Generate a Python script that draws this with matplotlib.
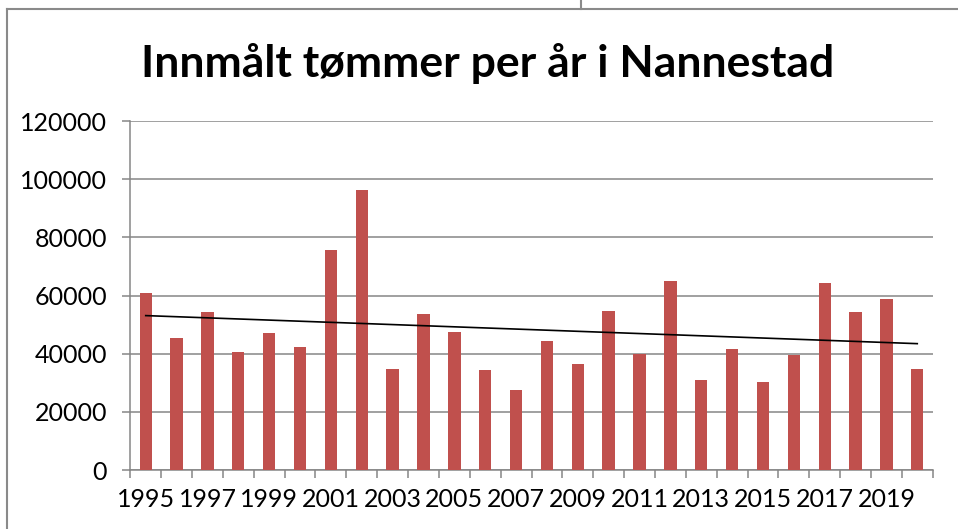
import numpy as np
import matplotlib
matplotlib.use("Agg")
from matplotlib import pyplot as plt
from matplotlib.lines import Line2D

years = list(range(1995, 2021))
volume = [61000, 45400, 54300, 40700, 47200, 42200, 75500, 96200, 34600, 53700,
          47400, 34400, 27600, 44300, 36300, 54500, 39900, 65000, 31000, 41500,
          30400, 39400, 64400, 54400, 58900, 34700]
tick_years = [str(y) if (y - 1995) % 2 == 0 else "" for y in years]
title = "Innmålt tømmer per år i Nannestad"

bar_color = "#C0504D"
grid_color = "#868686"
frame_color = "#8a8a8a"

plt.rcParams["font.family"] = ["Lato", "DejaVu Sans"]

W, H = 958, 529
fig = plt.figure(figsize=(W / 100, H / 100), dpi=100)
ax = fig.add_axes([130.3 / W, 1 - 470 / H, (932.7 - 130.3) / W, (470 - 121) / H])

x = np.arange(len(years))
ax.bar(x, volume, width=0.4, color=bar_color, zorder=3)

# linear trend line
k, m = np.polyfit(x, volume, 1)
ax.plot([x[0], x[-1]], [k * x[0] + m, k * x[-1] + m], color="black", lw=1.2, zorder=4)

ax.set_xlim(-0.5, len(years) - 0.5)
ax.set_ylim(0, 120000)
ax.set_yticks(np.arange(0, 120001, 20000))
ax.yaxis.grid(True, color=grid_color, lw=1.1, zorder=0)
ax.set_axisbelow(True)

ax.set_xticks(x)
ax.set_xticklabels(tick_years)
ax.set_xticks(np.arange(-0.5, len(years)), minor=True)
ax.tick_params(axis="x", which="major", length=0, pad=13, labelsize=18)
ax.tick_params(axis="x", which="minor", length=5.8, width=1.1, color=grid_color)
ax.tick_params(axis="y", length=5.8, width=1.1, color=grid_color, pad=11, labelsize=18)

for s in ["top", "right"]:
    ax.spines[s].set_visible(False)
for s in ["left", "bottom"]:
    ax.spines[s].set_color(grid_color)
    ax.spines[s].set_linewidth(1.1)

fig.text(487.5 / W, 1 - 77 / H, title, ha="center", va="baseline",
         fontsize=32, fontweight="bold")

# chart frame (extends beyond the image)
fy = 1 - 9 / H
fx = 7 / W
fig.add_artist(Line2D([fx, 1], [fy, fy], color=frame_color, lw=1.5))
fig.add_artist(Line2D([fx, fx], [0, fy], color=frame_color, lw=1.5))
fig.add_artist(Line2D([581 / W, 581 / W], [fy, 1], color=frame_color, lw=1.5))

fig.savefig("out.png", dpi=100)
